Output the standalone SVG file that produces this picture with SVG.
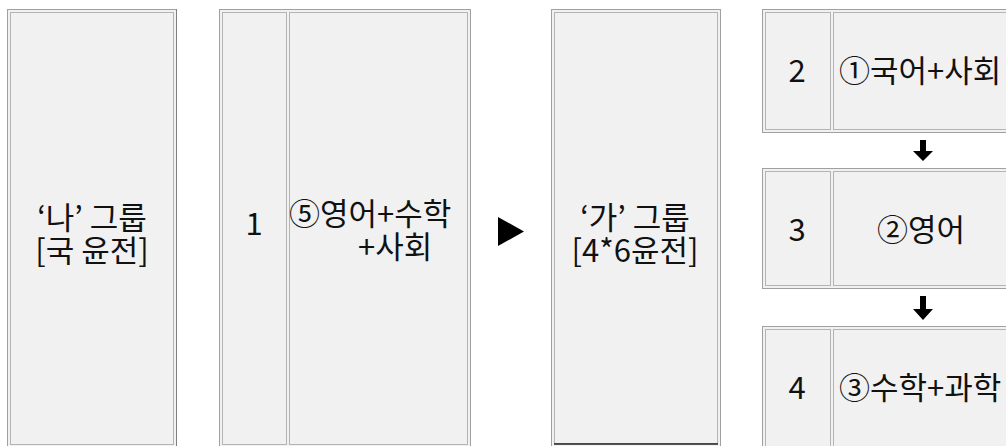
<svg xmlns="http://www.w3.org/2000/svg" width="1006" height="446" viewBox="0 0 1006 446">
<style>
.outer{fill:#f1f1f1;stroke:#a0a0a0;stroke-width:1}
.cell{fill:#f1f1f1;stroke:#b4b4b4;stroke-width:1}
.t{font-family:"Noto Sans CJK KR","Noto Sans",sans-serif;font-size:31px;fill:#111}
.m{text-anchor:middle}
.arrow{fill:#000}
</style>
<rect width="1006" height="446" fill="#fff"/>
<g id="node-na">
<rect class="outer" x="7.5" y="9.5" width="169" height="440"/>
<rect class="cell" x="10.5" y="12.5" width="163" height="432"/>
<line x1="176.5" y1="9" x2="176.5" y2="446" stroke="#808080"/>
<text class="t m"><tspan x="92" y="229">‘나’ 그룹</tspan><tspan x="92" y="262">[국 윤전]</tspan></text>
</g>
<g id="node-1">
<rect class="outer" x="219.5" y="9.5" width="251" height="440"/>
<rect class="cell" x="222.5" y="12.5" width="64" height="432"/>
<rect class="cell" x="289.5" y="12.5" width="178" height="432"/>
<text class="t m" x="254" y="235">1</text>
<text class="t"><tspan x="289" y="225">⑤영어+수학</tspan><tspan x="358" y="258">+사회</tspan></text>
</g>
<g id="node-ga">
<rect class="outer" x="551.5" y="9.5" width="169" height="440"/>
<rect class="cell" x="554.5" y="12.5" width="163" height="431"/>
<line x1="554" y1="444" x2="718" y2="444" stroke="#222" stroke-width="1.5"/>
<text class="t m"><tspan x="635" y="229">‘가’ 그룹</tspan><tspan x="635" y="262">[4*6윤전]</tspan></text>
</g>
<g id="node-2">
<rect class="outer" x="762.5" y="9.5" width="260" height="123"/>
<rect class="cell" x="765.5" y="12.5" width="65" height="117"/>
<rect class="cell" x="833.5" y="12.5" width="185" height="117"/>
<text class="t m" x="797" y="82">2</text>
<text class="t" x="839" y="82">①국어+사회</text>
</g>
<g id="node-3">
<rect class="outer" x="762.5" y="168.5" width="260" height="120"/>
<rect class="cell" x="765.5" y="171.5" width="65" height="114"/>
<rect class="cell" x="833.5" y="171.5" width="185" height="114"/>
<text class="t m" x="797" y="241">3</text>
<text class="t m" x="921" y="241">②영어</text>
</g>
<g id="node-4">
<rect class="outer" x="762.5" y="326.5" width="260" height="123"/>
<rect class="cell" x="765.5" y="329.5" width="65" height="118"/>
<rect class="cell" x="833.5" y="329.5" width="185" height="118"/>
<text class="t m" x="797" y="399">4</text>
<text class="t" x="839" y="399">③수학+과학</text>
</g>
<g id="connectors">
<polygon class="arrow" points="920,140 926,140 926,151 933,151 923,161 913,151 920,151"/>
<polygon class="arrow" points="920,296 926,296 926,309 933,309 923,320 913,309 920,309"/>
<polygon class="arrow" points="498,217 524,231.5 498,246"/>
</g>
</svg>
